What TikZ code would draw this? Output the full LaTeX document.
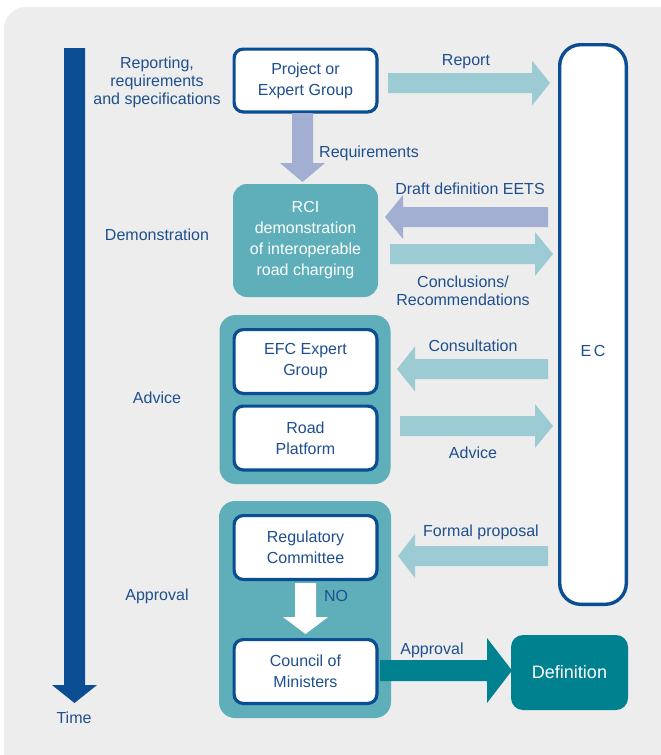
\documentclass[tikz,border=0pt]{standalone}
\usepackage{fontspec}
\setmainfont{Liberation Sans}
\usetikzlibrary{calc}
\definecolor{bgG}{HTML}{EDEDED}
\definecolor{dblue}{HTML}{0A4D93}
\definecolor{tblue}{HTML}{1E4F8E}
\definecolor{lteal}{HTML}{9DCBD3}
\definecolor{lav}{HTML}{A3AED3}
\definecolor{mteal}{HTML}{5EAFBA}
\definecolor{dteal}{HTML}{00818F}
\tikzset{
  lbl/.style={text=tblue,font=\fontsize{16}{18}\selectfont,align=center,inner sep=0pt},
  wbox/.style={draw=dblue,line width=3.2pt,fill=white,rounded corners=9pt,text=tblue,
    font=\fontsize{16}{21}\selectfont,align=center,inner sep=0pt},
  grp/.style={fill=mteal,rounded corners=16pt,inner sep=0pt},
}
% horizontal block arrow: color, x start, x head base, x tip, y centre, shaft half, head half
\newcommand\hblk[7]{\fill[#1] (#2,#5-#6) -- (#3,#5-#6) -- (#3,#5-#7) -- (#4,#5) -- (#3,#5+#7) -- (#3,#5+#6) -- (#2,#5+#6) -- cycle;}
% vertical block arrow: color, y start, y head base, y tip, x centre, shaft half, head half
\newcommand\vblk[7]{\fill[#1] (#5-#6,#2) -- (#5-#6,#3) -- (#5-#7,#3) -- (#5,#4) -- (#5+#7,#3) -- (#5+#6,#3) -- (#5+#6,#2) -- cycle;}
\begin{document}
\begin{tikzpicture}[x=1pt,y=-1pt]
\useasboundingbox (0,0) rectangle (661,755);
\fill[white] (0,0) rectangle (661,755);
\fill[bgG,rounded corners=22pt] (4,7) rectangle (685,780);

% time arrow
\vblk{dblue}{48}{685}{703}{74.5}{10.5}{22.5}
\node[lbl] (time) at (74,718) {Time};

% side labels
\node[lbl] (lrep) at (157,82) {Reporting,\\requirements\\and specifications};
\node[lbl] (ldem) at (157,235) {Demonstration};
\node[lbl] (ladv) at (157,398) {Advice};
\node[lbl] (lapp) at (157,596) {Approval};

% EC
\node[draw=dblue,line width=3.4pt,fill=white,rounded corners=21pt,minimum width=66.6pt,minimum height=559.6pt,inner sep=0pt] (ec) at (593,324.5) {};
\node[lbl] (ectext) at (593,351) {E\,C};

% groups
\node[grp,minimum width=171pt,minimum height=169pt] (gadv) at (305,399.5) {};
\node[grp,minimum width=172pt,minimum height=217pt] (gapp) at (305,609.5) {};

% boxes
\node[wbox,minimum width=142.8pt,minimum height=62.8pt] (proj) at (305.5,80.5) {Project or\\Expert Group};
\node[fill=mteal,rounded corners=14pt,minimum width=145pt,minimum height=113pt,inner sep=0pt,text=white,
  font=\fontsize{16}{21}\selectfont,align=center] (rci) at (305.5,240.5) {RCI\\demonstration\\of interoperable\\road charging};
\node[wbox,minimum width=142.8pt,minimum height=63.8pt] (efc) at (305.5,361.5) {EFC Expert\\Group};
\node[wbox,minimum width=142.8pt,minimum height=63.8pt] (road) at (305.5,438) {Road\\Platform};
\node[wbox,minimum width=142.8pt,minimum height=63.8pt] (reg) at (305.5,547.5) {Regulatory\\Committee};
\node[wbox,minimum width=142.8pt,minimum height=63.8pt] (coun) at (305.5,671.5) {Council of\\Ministers};
\node[fill=dteal,rounded corners=12pt,minimum width=117pt,minimum height=75pt,inner sep=0pt,text=white,
  font=\fontsize{18}{21}\selectfont] (def) at (569.5,672.5) {Definition};

% connectors (block arrows)
\hblk{lteal}{388}{532}{550}{83}{10}{22.5}
\node[lbl] (trep) at (466,62) {Report};
\vblk{lav}{113}{163}{182}{302.5}{10.5}{22.5}
\node[lbl] (treq) at (369,153) {Requirements};
\hblk{lav}{548}{403}{385}{217}{10}{22}
\node[lbl] (tdraft) at (470,189) {Draft definition EETS};
\hblk{lteal}{390}{535}{553}{254}{10}{22}
\node[lbl] (tconc) at (463,291) {Conclusions/\\Recommendations};
\hblk{lteal}{548}{415}{397}{369}{10}{22.5}
\node[lbl] (tcons) at (473,346) {Consultation};
\hblk{lteal}{400}{535}{553}{426}{10}{22}
\node[lbl] (tadv) at (473,453) {Advice};
\hblk{lteal}{548}{415}{398}{556}{10}{22}
\node[lbl] (tform) at (481,532) {Formal proposal};
\vblk{white}{583}{617}{634}{305.5}{10.5}{22.5}
\node[lbl] (tno) at (336,596) {NO};
\hblk{dteal}{380}{487}{512}{670.5}{10.5}{32.5}
\node[lbl] (tappr) at (432,650) {Approval};
\end{tikzpicture}
\end{document}
